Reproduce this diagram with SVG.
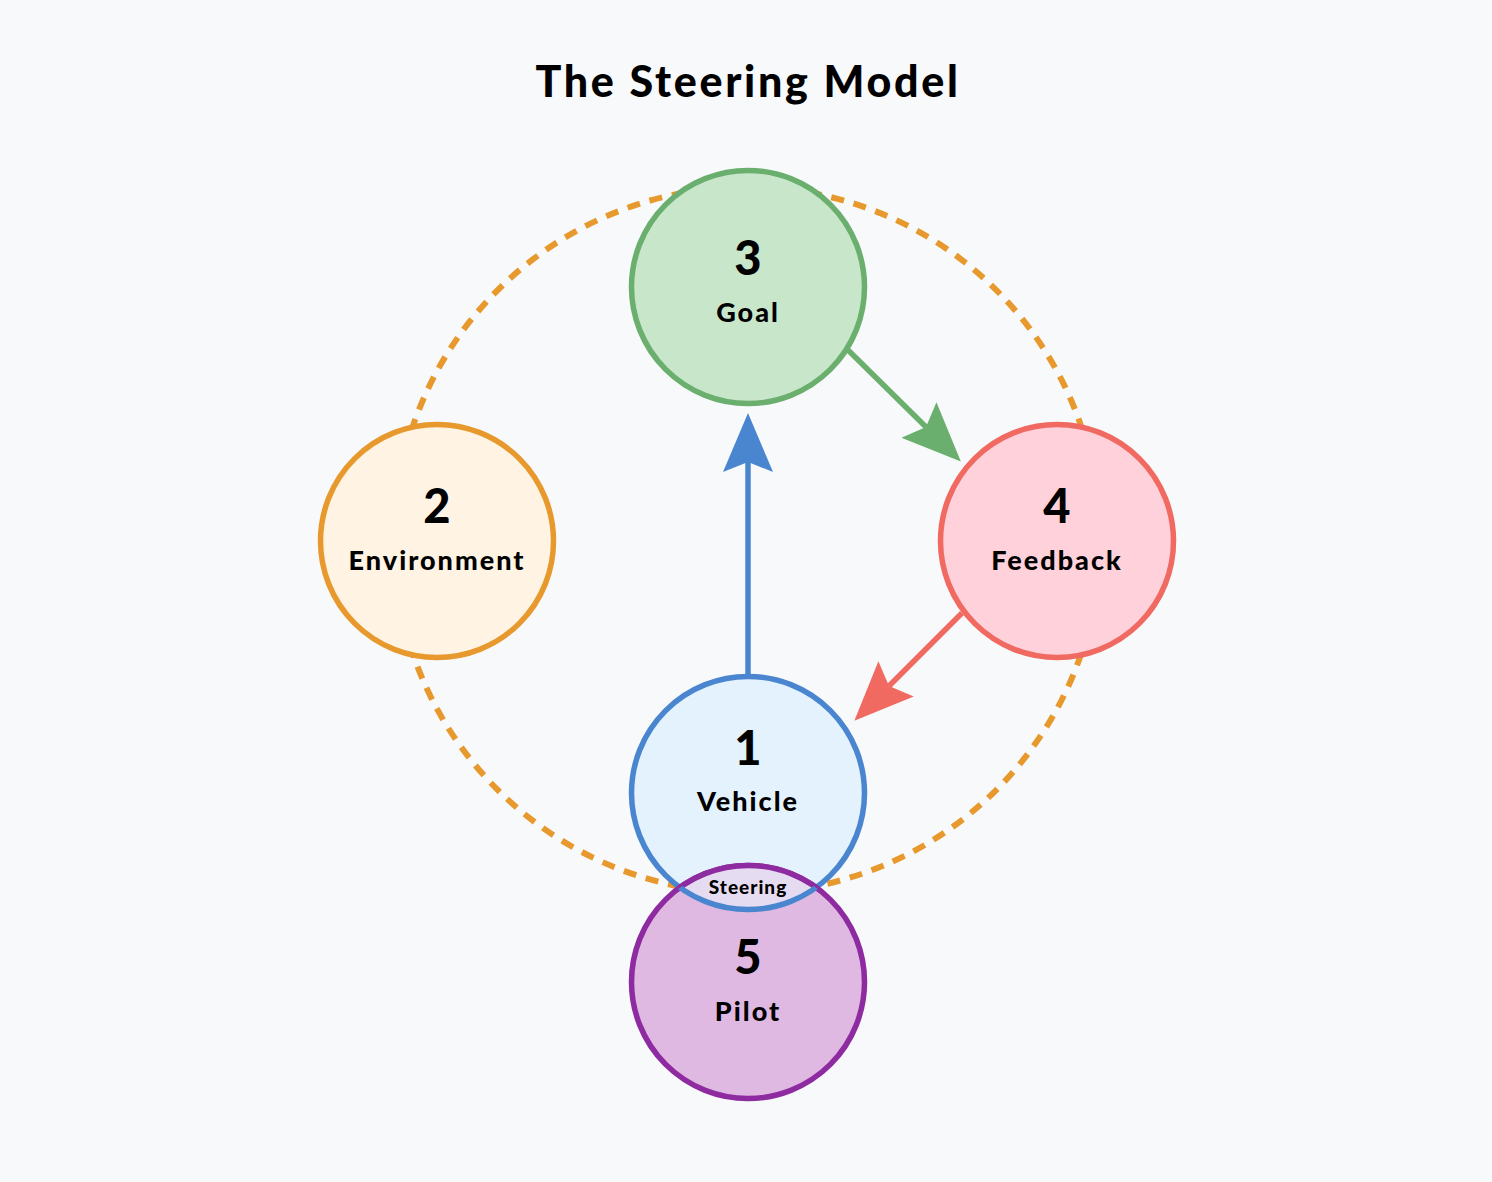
<svg xmlns="http://www.w3.org/2000/svg" width="1492" height="1182" viewBox="0 0 1492 1182">
<style>
text{font-family:Lato,"Open Sans","Liberation Sans",sans-serif;font-weight:900;fill:#000;text-anchor:middle}
.num{font-size:47px}
.lbl{font-size:27px;letter-spacing:2px}
.node{stroke-width:5.5}
.conn{fill:none;stroke-width:5.5}
</style>
<defs>
<marker id="hb" markerUnits="userSpaceOnUse" viewBox="0 0 59 50" refX="10" refY="25" markerWidth="59" markerHeight="50" orient="auto"><path d="M0,0 L59,25 L0,50 L10,25 Z" fill="#4a86cf"/></marker>
<marker id="hg" markerUnits="userSpaceOnUse" viewBox="0 0 59 50" refX="10" refY="25" markerWidth="59" markerHeight="50" orient="auto"><path d="M0,0 L59,25 L0,50 L10,25 Z" fill="#6aaf6e"/></marker>
<marker id="hr" markerUnits="userSpaceOnUse" viewBox="0 0 59 50" refX="10" refY="25" markerWidth="59" markerHeight="50" orient="auto"><path d="M0,0 L59,25 L0,50 L10,25 Z" fill="#f06a62"/></marker>
<clipPath id="cv"><circle cx="748" cy="793" r="116.5"/></clipPath>
<clipPath id="cp"><circle cx="748" cy="982" r="116.5"/></clipPath>
</defs>
<rect width="1492" height="1182" fill="#f8f9fb"/>
<text x="748" y="97" style="font-size:43px;letter-spacing:2.7px">The Steering Model</text>
<circle id="env-ring" cx="747" cy="540" r="353" fill="none" stroke="#e8992e" stroke-width="6" stroke-dasharray="13 10"/>
<g id="connectors">
<line class="conn" x1="748" y1="676" x2="748" y2="462" stroke="#4a86cf" marker-end="url(#hb)"/>
<line class="conn" x1="848" y1="350" x2="926" y2="427" stroke="#6aaf6e" marker-end="url(#hg)"/>
<line class="conn" x1="962" y1="613" x2="889" y2="686" stroke="#f06a62" marker-end="url(#hr)"/>
</g>
<g id="node-goal">
<circle class="node" cx="748" cy="287" r="116.5" fill="#c8e6c9" stroke="#6aaf6e"/>
<text class="num" x="748" y="275">3</text>
<text class="lbl" x="748" y="322">Goal</text>
</g>
<g id="node-environment">
<circle class="node" cx="437" cy="541" r="116.5" fill="#fff3e3" stroke="#e8992e"/>
<text class="num" x="437" y="523">2</text>
<text class="lbl" x="437" y="570">Environment</text>
</g>
<g id="node-feedback">
<circle class="node" cx="1057" cy="541" r="116.5" fill="#ffd1db" stroke="#f06a62"/>
<text class="num" x="1057" y="523">4</text>
<text class="lbl" x="1057" y="570">Feedback</text>
</g>
<g id="node-vehicle">
<circle class="node" cx="748" cy="793" r="116.5" fill="#e3f2fc" stroke="#4a86cf"/>
<text class="num" x="748" y="765">1</text>
<text class="lbl" x="748" y="811">Vehicle</text>
</g>
<g id="node-pilot">
<circle class="node" cx="748" cy="982" r="116.5" fill="#e0b9e2" stroke="#8e2ba0"/>
<text class="num" x="748" y="974">5</text>
<text class="lbl" x="748" y="1021">Pilot</text>
</g>
<g id="node-steering">
<g clip-path="url(#cv)"><circle cx="748" cy="982" r="116.5" fill="#e6dcf2" stroke="#8e2ba0" stroke-width="5.5"/></g>
<g clip-path="url(#cp)"><circle cx="748" cy="793" r="116.5" fill="none" stroke="#4a86cf" stroke-width="5.5"/></g>
<text x="748" y="894" style="font-size:19px;letter-spacing:1px">Steering</text>
</g>
</svg>
